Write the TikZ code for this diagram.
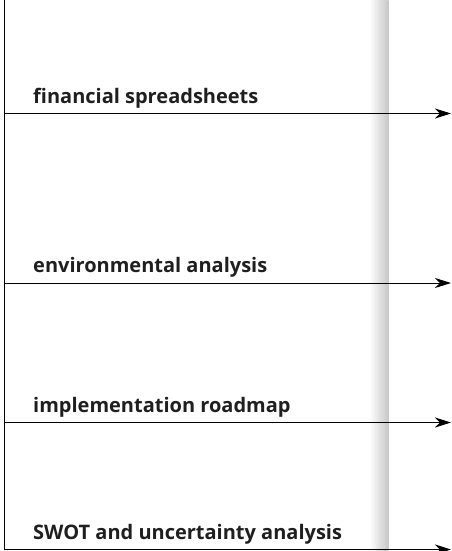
\documentclass[tikz,border=0pt]{standalone}
\usepackage{fontspec}
\setsansfont{Open Sans}
\usetikzlibrary{arrows.meta}

\tikzset{
  stagelabel/.style={anchor=base west, inner sep=0pt, text=black!88,
    font=\sffamily\bfseries\fontsize{20}{22}\selectfont},
  stageline/.style={line width=1pt, -{Stealth[length=16pt,width=10pt,inset=5pt]}}
}

\begin{document}
\begin{tikzpicture}[x=1pt,y=-1pt]
\useasboundingbox (0,0) rectangle (451,551);
\clip (0,0) rectangle (451,551);

% shadow of the page fold
\shade[left color=white, right color=black!22] (369,0) rectangle (388.5,551);

\coordinate (top) at (4.5,0);
\coordinate (bottom) at (4.5,549.5);
\draw[line width=1pt] (top) -- (bottom);

\foreach \name/\y/\txt in {fin/113.5/financial spreadsheets,
                          env/283/environmental analysis,
                          imp/422.5/implementation roadmap,
                          swot/549.5/SWOT and uncertainty analysis}{
  \coordinate (\name-start) at (4.5,\y);
  \coordinate (\name-end) at (451,\y);
  \node[stagelabel] (\name) at (33,\y-10.5) {\txt};
  \draw[stageline] (\name-start) -- (\name-end);
}
\end{tikzpicture}
\end{document}
